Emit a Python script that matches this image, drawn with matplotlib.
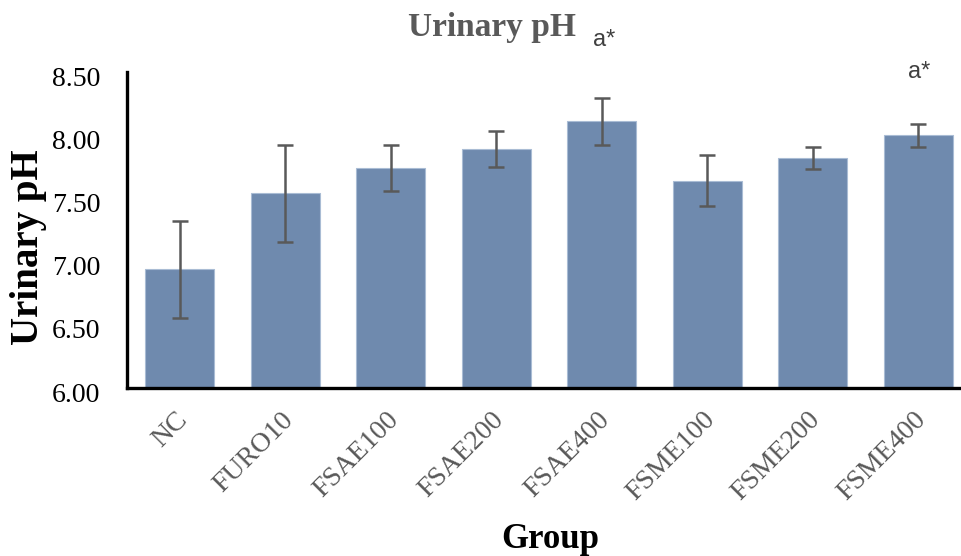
import matplotlib
matplotlib.use("Agg")
import matplotlib.pyplot as plt
import matplotlib.transforms as mtransforms

groups = ["NC", "FURO10", "FSAE100", "FSAE200", "FSAE400", "FSME100", "FSME200", "FSME400"]
means = [6.94, 7.54, 7.74, 7.89, 8.11, 7.64, 7.82, 8.00]
errors = [0.385, 0.385, 0.18, 0.145, 0.185, 0.20, 0.085, 0.09]
yticks = [6.00, 6.50, 7.00, 7.50, 8.00, 8.50]

W, H = 961, 556
fig = plt.figure(figsize=(W / 100, H / 100), dpi=100)
ax = fig.add_axes([127 / W, (H - 388) / H, 844 / W, 316 / H])

x = list(range(len(groups)))
ax.bar(x, [m - 6.0 for m in means], bottom=6.0, width=0.655, color="#6F8AAE",
       edgecolor="#A9BCD4", linewidth=0.8, zorder=2)
ax.errorbar(x, means, yerr=errors, fmt="none", ecolor="#595959", elinewidth=1.8,
            capsize=6, capthick=1.8, zorder=3)

ax.set_xlim(-0.5, 7.5)
ax.set_ylim(6.0, 8.5)
ax.set_yticks(yticks)
ax.set_yticklabels([f"{v:.2f}" for v in yticks], fontfamily="Liberation Serif",
                   fontsize=20, color="black")
ax.set_xticks(x)
ax.set_xticklabels(groups, fontfamily="Liberation Serif", fontsize=20, color="#595959",
                   rotation=45, ha="right", va="top", rotation_mode="anchor")
ax.tick_params(axis="y", length=0, pad=19)
ax.tick_params(axis="x", length=0, pad=14)

off = mtransforms.ScaledTranslation(0, -4 / 100, fig.dpi_scale_trans)
for lab in ax.get_yticklabels():
    lab.set_transform(lab.get_transform() + off)
offx = mtransforms.ScaledTranslation(-5 / 100, 0, fig.dpi_scale_trans)
for lab in ax.get_xticklabels():
    lab.set_transform(lab.get_transform() + offx)

for s in ["top", "right"]:
    ax.spines[s].set_visible(False)
for s in ["left", "bottom"]:
    ax.spines[s].set_linewidth(2.4)
    ax.spines[s].set_color("black")

fig.text(492 / W, 1 - 36 / H, "Urinary pH", ha="center", va="baseline",
         fontfamily="Liberation Serif", fontweight="bold", fontsize=24, color="#595959")
fig.text(604 / W, 1 - 40 / H, "a*", ha="center", va="center",
         fontfamily="Liberation Sans", fontsize=17, color="#404040")
fig.text(919 / W, 1 - 72 / H, "a*", ha="center", va="center",
         fontfamily="Liberation Sans", fontsize=17, color="#404040")

fig.text(29 / W, 1 - 247 / H, "Urinary pH", ha="center", va="center", rotation=90,
         fontfamily="Liberation Serif", fontweight="bold", fontsize=28, color="black")
fig.text(550 / W, 1 - 548 / H, "Group", ha="center", va="baseline",
         fontfamily="Liberation Serif", fontweight="bold", fontsize=25, color="black")

fig.savefig("out.png", dpi=100)
